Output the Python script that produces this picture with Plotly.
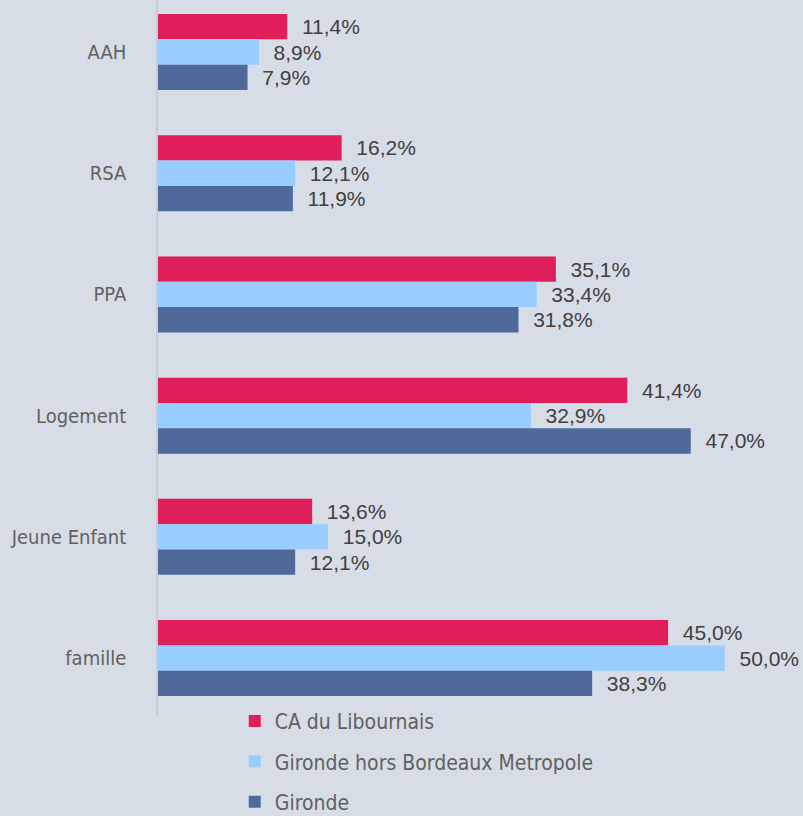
import plotly.graph_objects as go

categories = ["AAH", "RSA", "PPA", "Logement", "Jeune Enfant", "famille"]
series_names = ["CA du Libournais", "Gironde hors Bordeaux Metropole", "Gironde"]
ca_libournais = [11.4, 16.2, 35.1, 41.4, 13.6, 45.0]
gironde_hors_bm = [8.9, 12.1, 33.4, 32.9, 15.0, 50.0]
gironde = [7.9, 11.9, 31.8, 47.0, 12.1, 38.3]
colors = ["#e01e5a", "#99ccff", "#4f6a9a"]

def fmt(v):
    return "\u00a0\u00a0" + f"{v:.1f}".replace(".", ",") + "%"

fig = go.Figure()
for i, (name, vals, col) in enumerate(zip(series_names, [ca_libournais, gironde_hors_bm, gironde], colors)):
    fig.add_trace(go.Bar(
        y=categories, x=vals, name=name, orientation="h",
        legendgroup=f"g{i}",
        marker=dict(color=col, line=dict(width=0)),
        text=[fmt(v) for v in vals], textposition="outside",
        textfont=dict(family="Liberation Sans, Arial, sans-serif", size=21, color="#404040"),
        cliponaxis=False,
    ))

fig.update_layout(
    width=803, height=816,
    paper_bgcolor="#d7dde6", plot_bgcolor="#d7dde6",
    margin=dict(l=158, r=0, t=0, b=100, autoexpand=False),
    barmode="group", bargap=0.373, bargroupgap=0,
    showlegend=True,
    legend=dict(
        orientation="v", x=0.119, xanchor="left",
        yref="paper", y=0.021, yanchor="top",
        font=dict(family="DejaVu Sans Condensed, Liberation Sans Narrow, sans-serif", size=21, color="#606060"),
        bgcolor="rgba(0,0,0,0)", itemsizing="constant",
        traceorder="grouped", tracegroupgap=10,
    ),
    xaxis=dict(range=[0, 56.9], visible=False, showgrid=False, zeroline=False),
    yaxis=dict(
        type="category", categoryorder="array", categoryarray=categories,
        range=[5.478, -0.429], showgrid=False, zeroline=False,
        showline=True, linecolor="#c9cdd3", linewidth=1.5,
        ticks="", ticklabelstandoff=26,
        tickfont=dict(family="DejaVu Sans Condensed, Liberation Sans Narrow, sans-serif", size=20, color="#606060"),
    ),
)
fig.write_html("out.html", config={"displayModeBar": False},
               post_script="document.body.style.margin='0';")
